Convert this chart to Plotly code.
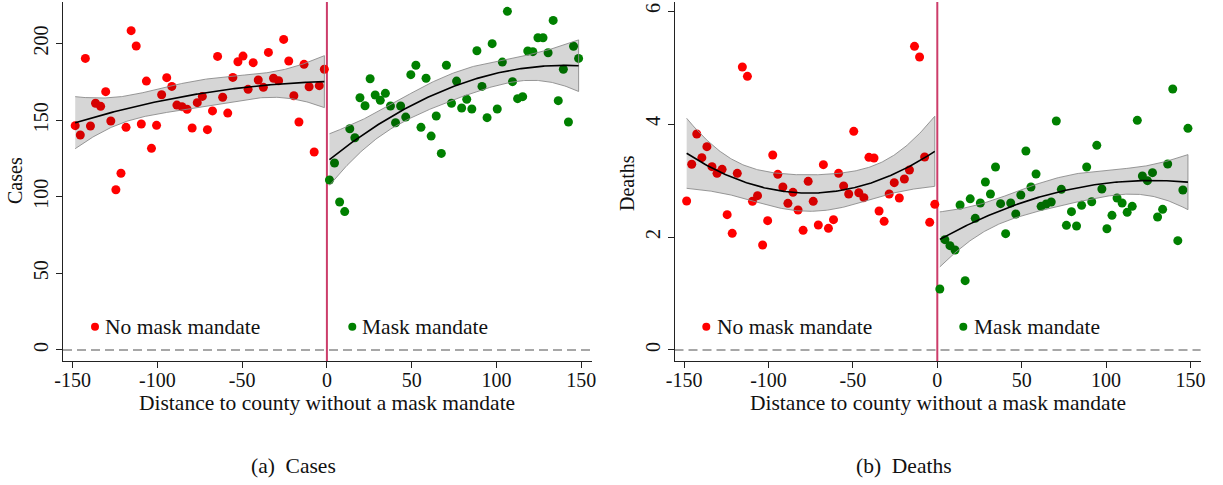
import numpy as np
import plotly.graph_objects as go

# ---------------- data ----------------
dist_no_mask = [-148.5, -145.5, -142.5, -139.5, -136.5, -133.5, -130.5, -127.5, -124.5, -121.5,
                -118.5, -115.5, -112.5, -109.5, -106.5, -103.5, -100.5, -97.5, -94.5, -91.5,
                -88.5, -85.5, -82.5, -79.5, -76.5, -73.5, -70.5, -67.5, -64.5, -61.5,
                -58.5, -55.5, -52.5, -49.5, -46.5, -43.5, -40.5, -37.5, -34.5, -31.5,
                -28.5, -25.5, -22.5, -19.5, -16.5, -13.5, -10.5, -7.5, -4.5, -1.5]
dist_mask = [1.5, 4.5, 7.5, 10.5, 13.5, 16.5, 19.5, 22.5, 25.5, 28.5,
             31.5, 34.5, 37.5, 40.5, 43.5, 46.5, 49.5, 52.5, 55.5, 58.5,
             61.5, 64.5, 67.5, 70.5, 73.5, 76.5, 79.5, 82.5, 85.5, 88.5,
             91.5, 94.5, 97.5, 100.5, 103.5, 106.5, 109.5, 112.5, 115.5, 118.5,
             121.5, 124.5, 127.5, 130.5, 133.5, 136.5, 139.5, 142.5, 145.5, 148.5]

cases_no_mask = [146.4, 140.3, 190.3, 146.2, 161.0, 159.0, 168.6, 149.4, 104.6, 115.3,
                 145.3, 208.4, 198.4, 147.5, 175.5, 131.6, 146.6, 166.6, 177.7, 172.0,
                 159.8, 158.8, 157.1, 144.9, 161.4, 165.5, 143.8, 156.0, 191.6, 164.9,
                 154.6, 177.9, 188.1, 191.8, 170.1, 187.5, 176.2, 171.4, 194.2, 177.3,
                 175.7, 202.7, 188.6, 165.9, 148.8, 186.4, 171.8, 129.2, 172.5, 183.2]
cases_mask = [110.9, 122.0, 96.6, 90.3, 144.4, 138.5, 164.6, 159.4, 177.0, 166.4,
              162.9, 167.5, 159.2, 148.3, 159.2, 152.0, 179.7, 185.8, 145.3, 177.3,
              139.6, 152.7, 128.3, 185.8, 161.0, 175.5, 157.9, 163.6, 157.3, 195.3,
              172.0, 151.6, 199.9, 157.3, 187.9, 221.0, 175.1, 164.0, 165.3, 195.1,
              194.7, 203.8, 203.8, 194.0, 215.1, 162.7, 183.2, 148.8, 198.2, 190.3]

deaths_no_mask = [2.637, 3.287, 3.823, 3.404, 3.599, 3.245, 3.127, 3.198, 2.395, 2.065,
                  3.127, 5.009, 4.844, 2.631, 2.732, 1.858, 2.289, 3.451, 3.109, 2.885,
                  2.596, 2.791, 2.478, 2.118, 2.985, 2.631, 2.212, 3.280, 2.153, 2.307,
                  3.127, 2.903, 2.761, 3.870, 2.784, 2.696, 3.410, 3.398, 2.460, 2.277,
                  2.761, 2.962, 2.690, 3.027, 3.186, 5.375, 5.186, 3.416, 2.260, 2.578]
deaths_mask = [1.080, 1.953, 1.847, 1.770, 2.566, 1.227, 2.676, 2.330, 2.602, 2.973,
               2.761, 3.239, 2.590, 2.059, 2.602, 2.407, 2.743, 3.522, 2.885, 3.115,
               2.543, 2.584, 2.619, 4.053, 2.844, 2.207, 2.448, 2.195, 2.561, 3.239,
               2.625, 3.623, 2.850, 2.147, 2.384, 2.690, 2.602, 2.437, 2.543, 4.065,
               3.080, 2.997, 3.139, 2.354, 2.490, 3.292, 4.619, 1.935, 2.832, 3.923]

x_ticks = [-150, -100, -50, 0, 50, 100, 150]
x_tick_labels = ["-150", "-100", "-50", "0", "50", "100", "150"]
cases_ticks = [0, 50, 100, 150, 200]
deaths_ticks = [0, 2, 4, 6]

label_no = "No mask mandate"
label_yes = "Mask mandate"
x_title = "Distance to county without a mask mandate"
captions = ["(a)&nbsp; Cases", "(b)&nbsp; Deaths"]
y_titles = ["Cases", "Deaths"]

# ---------------- styling ----------------
W, H = 1223, 485
FONT = "Liberation Serif, DejaVu Serif, serif"
RED = "#ff0000"
GREEN = "#008000"
TXT = "#111111"


def px(xp):
    return xp / W


def py(yp):
    return min(1.0, max(0.0, 1 - yp / H))


def qfit(x, y, n=200):
    x = np.asarray(x, float)
    y = np.asarray(y, float)
    X = np.column_stack([np.ones_like(x), x, x ** 2])
    beta, *_ = np.linalg.lstsq(X, y, rcond=None)
    resid = y - X @ beta
    s2 = resid @ resid / (len(x) - 3)
    XtXi = np.linalg.inv(X.T @ X)
    xg = np.linspace(x.min(), x.max(), n)
    G = np.column_stack([np.ones_like(xg), xg, xg ** 2])
    yhat = G @ beta
    se = np.sqrt(s2 * np.einsum("ij,jk,ik->i", G, XtXi, G))
    t = 2.0117
    return xg, yhat, yhat - t * se, yhat + t * se


fig = go.Figure()

panels = [
    ("x", "y", cases_no_mask, cases_mask),
    ("x2", "y2", deaths_no_mask, deaths_mask),
]
for xa, ya, yno, yyes in panels:
    fig.add_trace(go.Scatter(x=dist_no_mask, y=yno, mode="markers", xaxis=xa, yaxis=ya,
                             marker=dict(color=RED, size=9, line=dict(width=0)),
                             name=label_no, showlegend=False))
    fig.add_trace(go.Scatter(x=dist_mask, y=yyes, mode="markers", xaxis=xa, yaxis=ya,
                             marker=dict(color=GREEN, size=9, line=dict(width=0)),
                             name=label_yes, showlegend=False))
    for xs, ys in [(dist_no_mask, yno), (dist_mask, yyes)]:
        xg, yh, lo, hi = qfit(xs, ys)
        fig.add_trace(go.Scatter(x=np.concatenate([xg, xg[::-1]]),
                                 y=np.concatenate([lo, hi[::-1]]),
                                 fill="toself", fillcolor="rgba(0,0,0,0.16)",
                                 line=dict(color="rgba(140,140,140,0.9)", width=1),
                                 mode="lines", xaxis=xa, yaxis=ya, showlegend=False,
                                 hoverinfo="skip"))
        fig.add_trace(go.Scatter(x=xg, y=yh, mode="lines", xaxis=xa, yaxis=ya,
                                 line=dict(color="black", width=1.6), showlegend=False))

# plot area: top at y=2, x axis line at y=361 (pixels from top)
ydom = [py(361), py(2)]
axis_common = dict(showgrid=False, zeroline=False, showline=True, linecolor="#222222",
                   linewidth=1, ticks="outside", ticklen=6, tickcolor="#222222",
                   automargin=False, ticklabeloverflow="allow",
                   tickfont=dict(family=FONT, size=20, color=TXT))

fig.update_layout(
    width=W, height=H, margin=dict(l=0, r=0, t=0, b=0, autoexpand=False),
    paper_bgcolor="white", plot_bgcolor="white", showlegend=False,
    font=dict(family=FONT, color=TXT),
    xaxis=dict(domain=[px(63), px(592)], range=[-155.7, 156.4], anchor="y",
               tickvals=x_ticks, ticktext=x_tick_labels, ticklabelstandoff=-5, **axis_common),
    yaxis=dict(domain=ydom, range=[-7.2, 227.1], anchor="x", tickvals=cases_ticks,
               tickangle=-90, **axis_common),
    xaxis2=dict(domain=[px(674.5), px(1200.6)], range=[-155.7, 156.0], anchor="y2",
                tickvals=x_ticks, ticktext=x_tick_labels, ticklabelstandoff=-5, **axis_common),
    yaxis2=dict(domain=ydom, range=[-0.195, 6.16], anchor="x2", tickvals=deaths_ticks,
                tickangle=-90, **axis_common),
)

# reference lines: cutoff at 0 and dashed zero line
for xa, ya in [("x", "y"), ("x2", "y2")]:
    fig.add_shape(type="line", xref=xa, yref=f"{ya} domain", x0=0, x1=0, y0=0, y1=1,
                  line=dict(color="#cc3d6a", width=2), layer="below")
    fig.add_shape(type="line", xref=f"{xa} domain", yref=ya, x0=0, x1=1, y0=0, y1=0,
                  line=dict(color="#8a8a8a", width=1.5, dash="9px,5px"), layer="below")

ann = []
# axis titles
ann.append(dict(text=y_titles[0], x=px(15), y=py(181), textangle=-90, font=dict(size=20)))
ann.append(dict(text=y_titles[1], x=px(627), y=py(183), textangle=-90, font=dict(size=20)))
ann.append(dict(text=x_title, x=px(326.5), y=py(403), font=dict(size=21.5)))
ann.append(dict(text=x_title, x=px(938), y=py(403), font=dict(size=21.5)))
# captions
ann.append(dict(text=captions[0], x=px(293), y=py(466), font=dict(size=21.5)))
ann.append(dict(text=captions[1], x=px(904), y=py(466), font=dict(size=21.5)))
# in-plot keys
for tx, label in [(103, label_no), (360, label_yes), (714.5, label_no), (971.5, label_yes)]:
    ann.append(dict(text=label, x=px(tx), y=py(327), xanchor="left", font=dict(size=21.5)))
for a in ann:
    a.update(xref="paper", yref="paper", showarrow=False)
    a.setdefault("xanchor", "center")
    a["yanchor"] = "middle"
    a["font"].update(family=FONT, color=TXT)
fig.update_layout(annotations=ann)

for cx, col in [(95, RED), (352.3, GREEN), (706.3, RED), (963.3, GREEN)]:
    r = 4
    fig.add_shape(type="circle", xref="paper", yref="paper",
                  x0=px(cx - r), x1=px(cx + r), y0=py(326.7 + r), y1=py(326.7 - r),
                  fillcolor=col, line=dict(width=0))

# the page's default 8px body margin would shift the figure; remove it
fig.write_html("out.html",
               config={"displayModeBar": False},
               post_script="document.body.style.margin='0px';"
                           "document.body.style.overflow='hidden';")
